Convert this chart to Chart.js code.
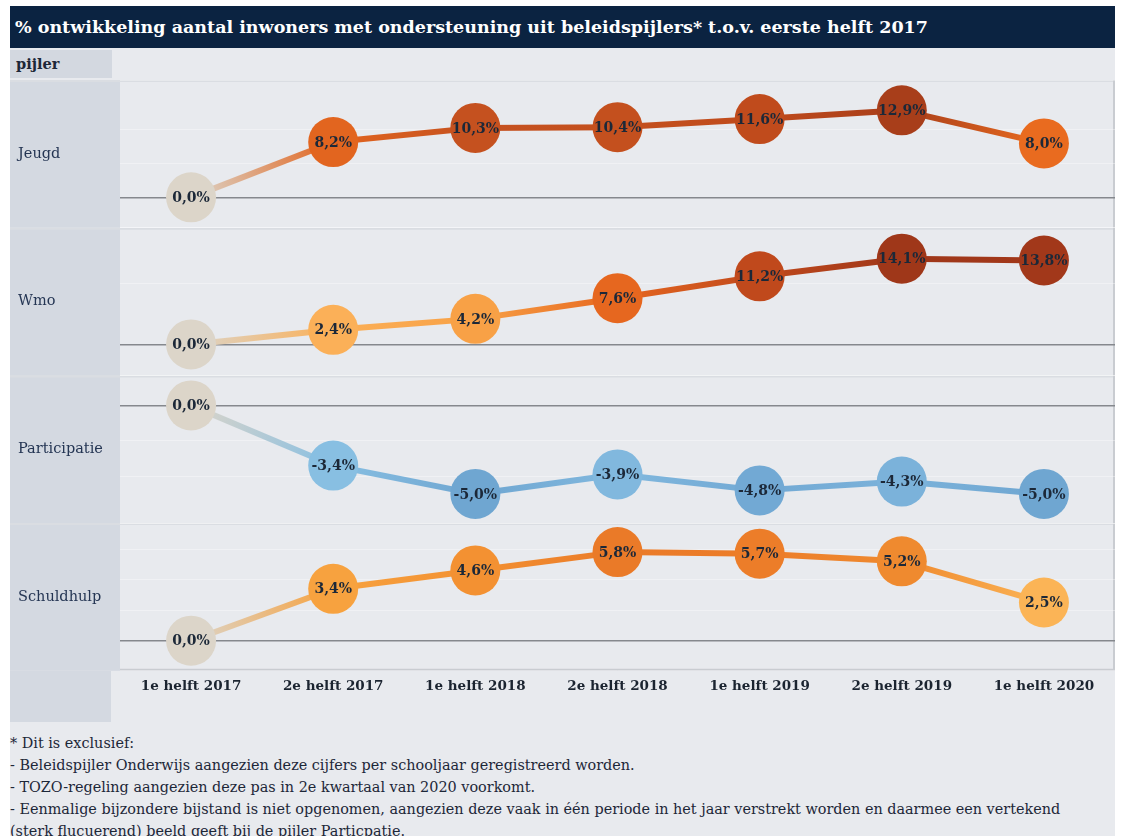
<!DOCTYPE html>
<html>
<head>
<meta charset="utf-8">
<script src="https://cdn.jsdelivr.net/npm/chart.js@4"></script>
<style>
  body { margin: 0; background: #fff; font-family: "DejaVu Serif", serif; }
  #page { position: relative; width: 1123px; height: 836px; overflow: hidden; }
  #sheet { position: absolute; left: 10px; top: 48px; width: 1105px; height: 788px; background: #e8eaee; }
  #title { position: absolute; left: 10px; top: 6px; width: 1105px; height: 42px; background: #0b2341;
           color: #fff; font-weight: bold; font-size: 17.5px; line-height: 42px; padding-left: 5px; box-sizing: border-box; }
  #head { position: absolute; left: 10px; top: 50px; width: 102px; height: 28px; background: #d3d8e0;
          font-weight: bold; font-size: 14.5px; line-height: 28px; padding-left: 6px; box-sizing: border-box; color: #1d2738; }
  #chartbox { position: absolute; left: 10px; top: 80px; width: 1105px; height: 642px; }
  #notes { position: absolute; left: 10px; top: 732px; font-size: 14.4px; line-height: 22px; color: #1d2738; }
</style>
</head>
<body>
<div id="page">
  <div id="sheet"></div>
  <div id="title">% ontwikkeling aantal inwoners met ondersteuning uit beleidspijlers* t.o.v. eerste helft 2017</div>
  <div id="head">pijler</div>
  <div id="chartbox"><canvas id="chart"></canvas></div>
  <div id="notes">
    * Dit is exclusief:<br>
    - Beleidspijler Onderwijs aangezien deze cijfers per schooljaar geregistreerd worden.<br>
    - TOZO-regeling aangezien deze pas in 2e kwartaal van 2020 voorkomt.<br>
    - Eenmalige bijzondere bijstand is niet opgenomen, aangezien deze vaak in één periode in het jaar verstrekt worden en daarmee een vertekend<br>
    (sterk flucuerend) beeld geeft bij de pijler Particpatie.
  </div>
</div>
<script>
const periods = ['1e helft 2017', '2e helft 2017', '1e helft 2018', '2e helft 2018', '1e helft 2019', '2e helft 2019', '1e helft 2020'];
const pijlers = ['Jeugd', 'Wmo', 'Participatie', 'Schuldhulp'];

const jeugd = [0.0, 8.2, 10.3, 10.4, 11.6, 12.9, 8.0];
const wmo = [0.0, 2.4, 4.2, 7.6, 11.2, 14.1, 13.8];
const participatie = [0.0, -3.4, -5.0, -3.9, -4.8, -4.3, -5.0];
const schuldhulp = [0.0, 3.4, 4.6, 5.8, 5.7, 5.2, 2.5];

// kleur per bol
const jeugdColors = ['#dcd5c9', '#e2651f', '#c5511f', '#c4501e', '#c04b1c', '#a83e1a', '#e96b1f'];
const wmoColors = ['#dcd5c9', '#fbb058', '#f8a146', '#e6671f', '#c0491c', '#9f3719', '#a2381a'];
const partColors = ['#dcd5c9', '#88bfe2', '#6fa6d1', '#81b8de', '#72a9d4', '#7bb2da', '#6fa6d1'];
const schuldColors = ['#dcd5c9', '#f7a23f', '#f39132', '#ea7a28', '#ec7d29', '#ef8a2f', '#fbb456'];

const series = [jeugd, wmo, participatie, schuldhulp];
const colorSets = [jeugdColors, wmoColors, partColors, schuldColors];
const ranges = [[-4.5, 17.4], [-5.1, 19.2], [-6.65, 1.7], [-1.97, 7.7]];

const fmt = v => v.toFixed(1).replace('.', ',') + '%';

function segColor(colors) {
    return ctx => {
        const g = ctx.chart.ctx.createLinearGradient(ctx.p0.x, ctx.p0.y, ctx.p1.x, ctx.p1.y);
        g.addColorStop(0, colors[ctx.p0DataIndex]);
        g.addColorStop(1, colors[ctx.p1DataIndex]);
        return g;
    };
}

const datasets = series.map((values, i) => ({
    label: pijlers[i],
    data: values,
    yAxisID: 'y' + i,
    borderWidth: 6,
    borderColor: colorSets[i][1],
    segment: { borderColor: segColor(colorSets[i]) },
    pointRadius: 25,
    pointBorderWidth: 0,
    pointBackgroundColor: colorSets[i],
    tension: 0,
    clip: false
}));

const yScales = {};
series.forEach((values, i) => {
    yScales['y' + i] = {
        type: 'linear',
        position: 'right',
        stack: 'pijlers',
        stackWeight: 1,
        min: ranges[i][0],
        max: ranges[i][1],
        ticks: { display: false },
        border: { display: false },
        grid: {
            drawTicks: false,
            lineWidth: ctx => ctx.tick.value === 0 ? 1.5 : 1,
            color: ctx => ctx.tick.value === 0 ? '#85888d' : 'rgba(255,255,255,0.35)'
        }
    };
});

// linker kolom, scheidingslijnen en pijler-namen
const panelPlugin = {
    id: 'panels',
    beforeDraw(chart) {
        const c = chart.ctx;
        const area = chart.chartArea;
        c.save();
        pijlers.forEach((name, i) => {
            const s = chart.scales['y' + i];
            c.fillStyle = '#d4d9e1';
            c.fillRect(0, s.top, area.left, s.bottom - s.top);
        });
        c.fillRect(0, area.bottom, area.left - 9, chart.height - area.bottom);
        c.strokeStyle = '#dadde2';
        c.lineWidth = 2;
        pijlers.forEach((name, i) => {
            const s = chart.scales['y' + i];
            c.beginPath();
            c.moveTo(0, s.top + 1);
            c.lineTo(area.right, s.top + 1);
            c.stroke();
        });
        c.strokeStyle = '#c9ccd1';
        c.beginPath();
        c.moveTo(area.left, area.bottom - 1);
        c.lineTo(area.right - 1, area.bottom - 1);
        c.lineTo(area.right - 1, area.top);
        c.stroke();
        c.fillStyle = '#243553';
        c.font = '14.5px "DejaVu Serif"';
        c.textBaseline = 'middle';
        pijlers.forEach((name, i) => {
            const s = chart.scales['y' + i];
            c.fillText(name, 8, (s.top + s.bottom) / 2);
        });
        c.restore();
    },
    afterDatasetsDraw(chart) {
        const c = chart.ctx;
        c.save();
        c.font = 'bold 14px "DejaVu Serif"';
        c.fillStyle = '#1c2838';
        c.textAlign = 'center';
        c.textBaseline = 'middle';
        chart.data.datasets.forEach((ds, i) => {
            chart.getDatasetMeta(i).data.forEach((pt, j) => {
                c.fillText(fmt(ds.data[j]), pt.x, pt.y + 1);
            });
        });
        c.restore();
    }
};

new Chart(document.getElementById('chart'), {
    type: 'line',
    data: { labels: periods, datasets: datasets },
    options: {
        responsive: true,
        maintainAspectRatio: false,
        animation: false,
        events: [],
        layout: { autoPadding: false, padding: { left: 110, right: 0, top: 0, bottom: 27 } },
        plugins: { legend: { display: false }, tooltip: { enabled: false } },
        scales: Object.assign({
            x: {
                type: 'category',
                offset: true,
                grid: { display: false },
                border: { display: false },
                ticks: {
                    padding: 0,
                    color: '#1b2430',
                    font: { family: '"DejaVu Serif"', weight: 'bold', size: 13.5 }
                }
            }
        }, yScales)
    },
    plugins: [panelPlugin]
});
</script>
</body>
</html>
